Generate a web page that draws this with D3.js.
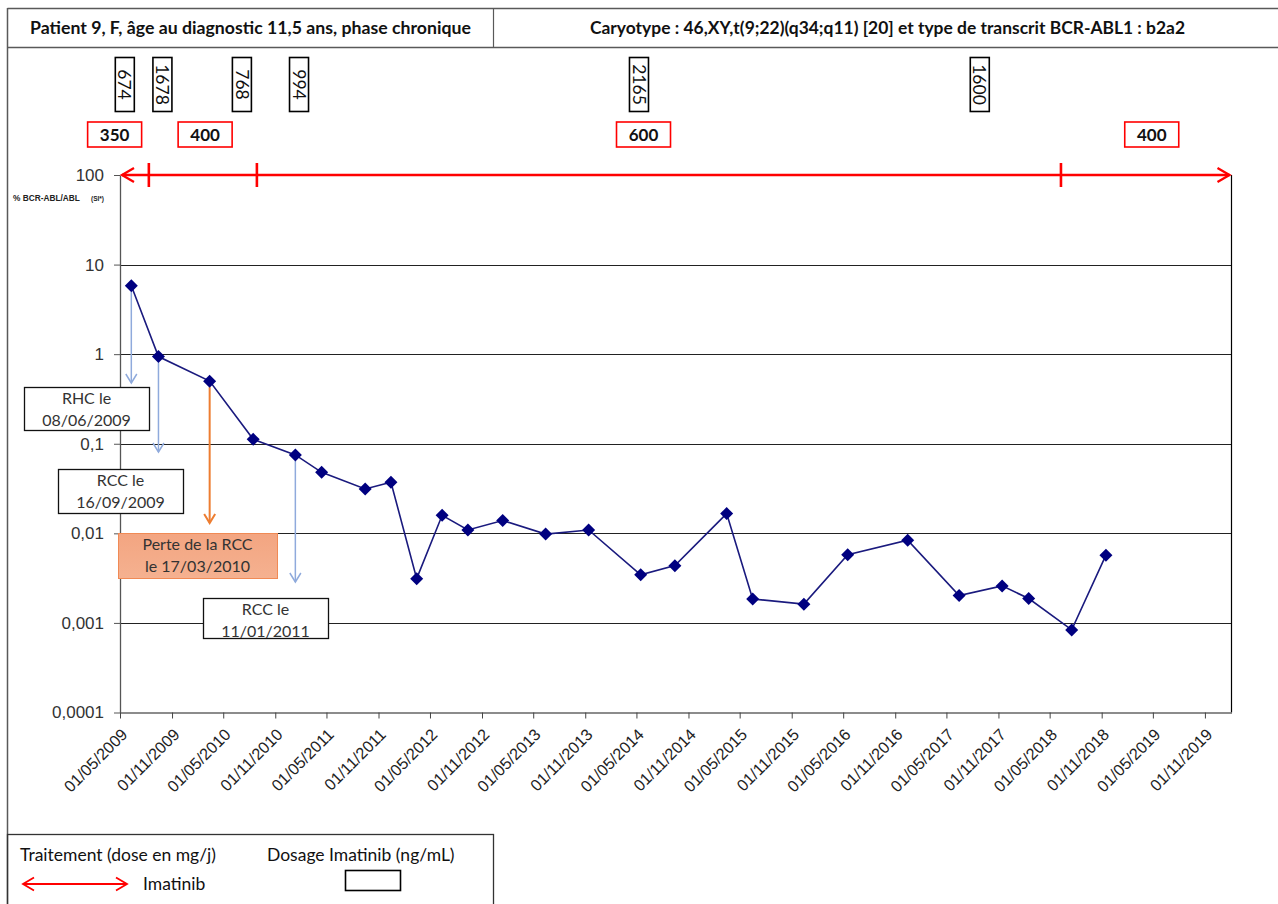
<!DOCTYPE html>
<html>
<head>
<meta charset="utf-8">
<script src="https://cdn.jsdelivr.net/npm/d3@7"></script>
<style>
  body { margin: 0; background: #fff; }
  svg { display: block; }
</style>
</head>
<body>
<svg id="chart" width="1278" height="904"></svg>
<script>
// Molecular follow-up (BCR-ABL/ABL, % IS) under imatinib
const sampleDates = [
  "2009-06-10", "2009-09-14", "2010-03-14", "2010-08-15", "2011-01-11",
  "2011-04-14", "2011-09-15", "2011-12-15", "2012-03-15", "2012-06-13",
  "2012-09-12", "2013-01-13", "2013-06-14", "2013-11-13", "2014-05-16",
  "2014-09-14", "2015-03-16", "2015-06-16", "2015-12-14", "2016-05-17",
  "2016-12-15", "2017-06-15", "2017-11-14", "2018-02-16", "2018-07-18",
  "2018-11-16"
];
const bcrAblPct = [
  5.8, 0.94, 0.50, 0.112, 0.075,
  0.048, 0.0313, 0.0372, 0.00312, 0.0159,
  0.0109, 0.0139, 0.0098, 0.0109, 0.00344,
  0.00436, 0.0166, 0.00185, 0.00162, 0.00578,
  0.00838, 0.00202, 0.00259, 0.00187, 0.000836,
  0.0057
];

const yTickValues = [100, 10, 1, 0.1, 0.01, 0.001, 0.0001];
const yTickLabels = ["100", "10", "1", "0,1", "0,01", "0,001", "0,0001"];
const xTickLabels = [
  "01/05/2009", "01/11/2009", "01/05/2010", "01/11/2010", "01/05/2011",
  "01/11/2011", "01/05/2012", "01/11/2012", "01/05/2013", "01/11/2013",
  "01/05/2014", "01/11/2014", "01/05/2015", "01/11/2015", "01/05/2016",
  "01/11/2016", "01/05/2017", "01/11/2017", "01/05/2018", "01/11/2018",
  "01/05/2019", "01/11/2019"
];

// Imatinib dose (mg/j): change dates and labels
const doseChangeDates = ["2009-08-11", "2010-08-28", "2018-06-10"];
const doseLabels = ["350", "400", "600", "400"];
const doseLabelDates = ["2009-04-12", "2010-02-26", "2014-05-26", "2019-04-27"];

// Imatinib plasma levels (ng/mL)
const imatinibLevels = ["674", "1678", "768", "994", "2165", "1600"];
const imatinibLevelDates = ["2009-05-18", "2009-09-28", "2010-07-06", "2011-01-24", "2014-05-10", "2017-08-27"];

// Clinical events, attached to a sample
const eventLabels = [
  ["RHC le", "08/06/2009"],
  ["RCC le", "16/09/2009"],
  ["Perte de la RCC", "le 17/03/2010"],
  ["RCC le", "11/01/2011"]
];
const eventSampleIndex = [0, 1, 2, 4];
const eventKind = ["response", "response", "loss", "response"];

const headerLeft = "Patient 9, F, âge au diagnostic 11,5 ans, phase chronique";
const headerRight = "Caryotype : 46,XY,t(9;22)(q34;q11) [20] et type de transcrit BCR-ABL1 : b2a2";

// ---------------------------------------------------------------
const CAL = "Lato, 'Open Sans', sans-serif";
const ARI = "'Liberation Sans', Arial, sans-serif";

const svg = d3.select("#chart");
const parseISO = d3.timeParse("%Y-%m-%d");
const parseFR = d3.timeParse("%d/%m/%Y");
const fmtFR = d3.timeFormat("%d/%m/%Y");

const plot = { left: 120, right: 1231.5, top: 175, bottom: 712.5 };

const x = d3.scaleTime()
  .domain([parseFR("01/05/2009"), parseISO("2020-02-03")])
  .range([plot.left, plot.right]);
const y = d3.scaleLog()
  .domain([0.0001, 100])
  .range([plot.bottom, plot.top]);

const data = sampleDates.map((d, i) => ({ date: parseISO(d), value: bcrAblPct[i] }));

function txt(sel, family, size, weight) {
  return sel.style("font-family", family).style("font-size", size + "px")
    .style("font-weight", weight || 400);
}

// Frame: header band and left rule
svg.append("line").attr("x1", 7.5).attr("x2", 1290).attr("y1", 8.5).attr("y2", 8.5)
  .attr("stroke", "#595959").attr("stroke-width", 1.5);
svg.append("line").attr("x1", 7.5).attr("x2", 1290).attr("y1", 47.5).attr("y2", 47.5)
  .attr("stroke", "#595959").attr("stroke-width", 1.5);
svg.append("line").attr("x1", 7.5).attr("x2", 7.5).attr("y1", 8).attr("y2", 904)
  .attr("stroke", "#595959").attr("stroke-width", 1.5);
svg.append("line").attr("x1", 493.5).attr("x2", 493.5).attr("y1", 8.5).attr("y2", 47.5)
  .attr("stroke", "#595959").attr("stroke-width", 1.2);

txt(svg.append("text").attr("x", 30).attr("y", 34)
  .attr("textLength", 441).attr("lengthAdjust", "spacingAndGlyphs")
  .attr("fill", "#111").text(headerLeft), CAL, 16.5, 700);
txt(svg.append("text").attr("x", 590).attr("y", 34)
  .attr("textLength", 595).attr("lengthAdjust", "spacingAndGlyphs")
  .attr("fill", "#111").text(headerRight), CAL, 16.5, 700);

// Gridlines
const gridVals = yTickValues.filter(v => v < 100 && v > 0.0001);
svg.append("g").selectAll("line").data(gridVals).join("line")
  .attr("x1", plot.left).attr("x2", plot.right)
  .attr("y1", d => Math.round(y(d)) + 0.5).attr("y2", d => Math.round(y(d)) + 0.5)
  .attr("stroke", "#222").attr("stroke-width", 1);

// Right border of plot
svg.append("line").attr("x1", plot.right).attr("x2", plot.right)
  .attr("y1", plot.top).attr("y2", plot.bottom)
  .attr("stroke", "#000").attr("stroke-width", 1.2);

// Y axis
const yAxis = svg.append("g").attr("transform", `translate(${plot.left},0)`)
  .call(d3.axisLeft(y).tickValues(yTickValues)
    .tickFormat(d => yTickLabels[yTickValues.indexOf(d)])
    .tickSize(6).tickSizeOuter(0));
yAxis.attr("font-size", null).attr("font-family", null);
yAxis.select(".domain").attr("stroke", "#555").attr("stroke-width", 1.3);
yAxis.selectAll(".tick line").attr("stroke", "#555");
txt(yAxis.selectAll(".tick text"), ARI, 17).attr("fill", "#333").attr("x", -16);

// X axis
const xTicks = xTickLabels.map(parseFR);
const xAxis = svg.append("g").attr("transform", `translate(0,${plot.bottom})`)
  .call(d3.axisBottom(x).tickValues(xTicks).tickFormat(fmtFR).tickSize(6).tickSizeOuter(0));
xAxis.attr("font-size", null).attr("font-family", null);
xAxis.select(".domain").attr("stroke", "#666").attr("stroke-width", 1.5);
xAxis.selectAll(".tick line").attr("stroke", "#444");
txt(xAxis.selectAll(".tick text"), ARI, 16.3)
  .attr("fill", "#222").attr("text-anchor", "end")
  .attr("y", 0).attr("dy", 0)
  .attr("transform", "translate(8,23) rotate(-45)");

// Y axis title
const yt = svg.append("text").attr("x", 13).attr("y", 201).attr("fill", "#222")
  .style("font-family", ARI).style("font-weight", 700);
yt.append("tspan").style("font-size", "8.3px").text("% BCR-ABL/ABL");
yt.append("tspan").attr("x", 91).style("font-size", "6.5px").text("(SI*)");

// Treatment line (imatinib) along the top
const red = "#FF0000";
const ty = y(100);
svg.append("line").attr("x1", x.range()[0] + 2).attr("x2", x.range()[1] - 2)
  .attr("y1", ty).attr("y2", ty).attr("stroke", red).attr("stroke-width", 2.3);
function openHead(g, px, py, dir, len, half, color, w) {
  g.append("path")
    .attr("d", `M${px - dir * len},${py - half}L${px},${py}L${px - dir * len},${py + half}`)
    .attr("fill", "none").attr("stroke", color).attr("stroke-width", w)
    .attr("stroke-linejoin", "miter");
}
openHead(svg, x.range()[0] + 2, ty, -1, 12, 7, red, 2.3);
openHead(svg, x.range()[1] - 2, ty, 1, 12, 7, red, 2.3);
svg.append("g").selectAll("line").data(doseChangeDates).join("line")
  .attr("x1", d => x(parseISO(d))).attr("x2", d => x(parseISO(d)))
  .attr("y1", ty - 12).attr("y2", ty + 12)
  .attr("stroke", red).attr("stroke-width", 2.6);

// Dose labels
const doseG = svg.append("g").selectAll("g").data(doseLabels).join("g")
  .attr("transform", (d, i) => `translate(${x(parseISO(doseLabelDates[i]))},134.5)`);
doseG.append("rect").attr("x", -27).attr("y", -12.5).attr("width", 54).attr("height", 25)
  .attr("fill", "#fff").attr("stroke", red).attr("stroke-width", 1.6);
txt(doseG.append("text").attr("text-anchor", "middle").attr("dy", "0.36em")
  .attr("fill", "#111").text(d => d), CAL, 17, 700);

// Imatinib plasma level boxes (vertical text)
const lvlG = svg.append("g").selectAll("g").data(imatinibLevels).join("g")
  .attr("transform", (d, i) => `translate(${x(parseISO(imatinibLevelDates[i]))},84.5)`);
lvlG.append("rect").attr("x", -9.5).attr("y", -27).attr("width", 19).attr("height", 54)
  .attr("fill", "#fff").attr("stroke", "#000").attr("stroke-width", 1.6);
txt(lvlG.append("text").attr("text-anchor", "middle").attr("dy", "0.36em")
  .attr("transform", "rotate(90)").attr("fill", "#111").text(d => d), CAL, 17.5);

// Event arrows and boxes
const blue = "#8FAADC", orange = "#ED7D31";
const eventArrowEnd = [383, 452, 523, 582];
const eventBox = [[24, 387, 125, 43], [58, 469, 125, 44], [118, 533, 159, 45], [203, 598, 125, 40]];

const defs = svg.append("defs");
const grad = defs.append("linearGradient").attr("id", "lossFill")
  .attr("x1", 0).attr("y1", 0).attr("x2", 0).attr("y2", 1);
grad.append("stop").attr("offset", 0).attr("stop-color", "#F3A581");
grad.append("stop").attr("offset", 1).attr("stop-color", "#F5B190");

eventSampleIndex.forEach((si, k) => {
  const p = data[si];
  const px = x(p.date), py = y(p.value);
  const col = eventKind[k] === "loss" ? orange : blue;
  const w = eventKind[k] === "loss" ? 2 : 1.5;
  svg.append("line").attr("x1", px).attr("x2", px).attr("y1", py + 6).attr("y2", eventArrowEnd[k])
    .attr("stroke", col).attr("stroke-width", w);
  svg.append("path")
    .attr("d", `M${px - 5.5},${eventArrowEnd[k] - 9}L${px},${eventArrowEnd[k]}L${px + 5.5},${eventArrowEnd[k] - 9}`)
    .attr("fill", "none").attr("stroke", col).attr("stroke-width", w);
});

eventLabels.forEach((lines, k) => {
  const [bx, by, bw, bh] = eventBox[k];
  const loss = eventKind[k] === "loss";
  svg.append("rect").attr("x", bx + 0.5).attr("y", by + 0.5).attr("width", bw).attr("height", bh)
    .attr("fill", loss ? "url(#lossFill)" : "#fff")
    .attr("stroke", loss ? "#F08A55" : "#111").attr("stroke-width", loss ? 1 : 1.3);
  const t = txt(svg.append("text").attr("text-anchor", "middle").attr("fill", "#333"), CAL, 16);
  lines.forEach((s, j) => {
    t.append("tspan").attr("x", bx + bw / 2).attr("y", by + 17 + j * 21.5).text(s);
  });
});

// BCR-ABL series
const navy = "#000080";
svg.append("path").datum(data)
  .attr("d", d3.line().x(d => x(d.date)).y(d => y(d.value)))
  .attr("fill", "none").attr("stroke", "#1A1A7E").attr("stroke-width", 1.6);
const diamond = d3.line()([[0, -6.5], [6.5, 0], [0, 6.5], [-6.5, 0]]) + "Z";
svg.append("g").selectAll("path").data(data).join("path")
  .attr("d", diamond)
  .attr("transform", d => `translate(${x(d.date)},${y(d.value)})`)
  .attr("fill", navy);

// Legend
svg.append("rect").attr("x", 7.5).attr("y", 834.5).attr("width", 486).attr("height", 80)
  .attr("fill", "none").attr("stroke", "#333").attr("stroke-width", 1.3);
txt(svg.append("text").attr("x", 20).attr("y", 861).attr("fill", "#111")
  .text("Traitement (dose en mg/j)"), CAL, 17.5);
txt(svg.append("text").attr("x", 267).attr("y", 861).attr("fill", "#111")
  .text("Dosage Imatinib (ng/mL)"), CAL, 17.5);
svg.append("line").attr("x1", 24).attr("x2", 126).attr("y1", 884).attr("y2", 884)
  .attr("stroke", red).attr("stroke-width", 1.8);
openHead(svg, 23, 884, -1, 11, 6.5, red, 1.8);
openHead(svg, 127, 884, 1, 11, 6.5, red, 1.8);
txt(svg.append("text").attr("x", 143).attr("y", 890).attr("fill", "#111")
  .text("Imatinib"), CAL, 17.5);
svg.append("rect").attr("x", 345.5).attr("y", 870.5).attr("width", 55).attr("height", 20)
  .attr("fill", "#fff").attr("stroke", "#000").attr("stroke-width", 1.6);
</script>
</body>
</html>
